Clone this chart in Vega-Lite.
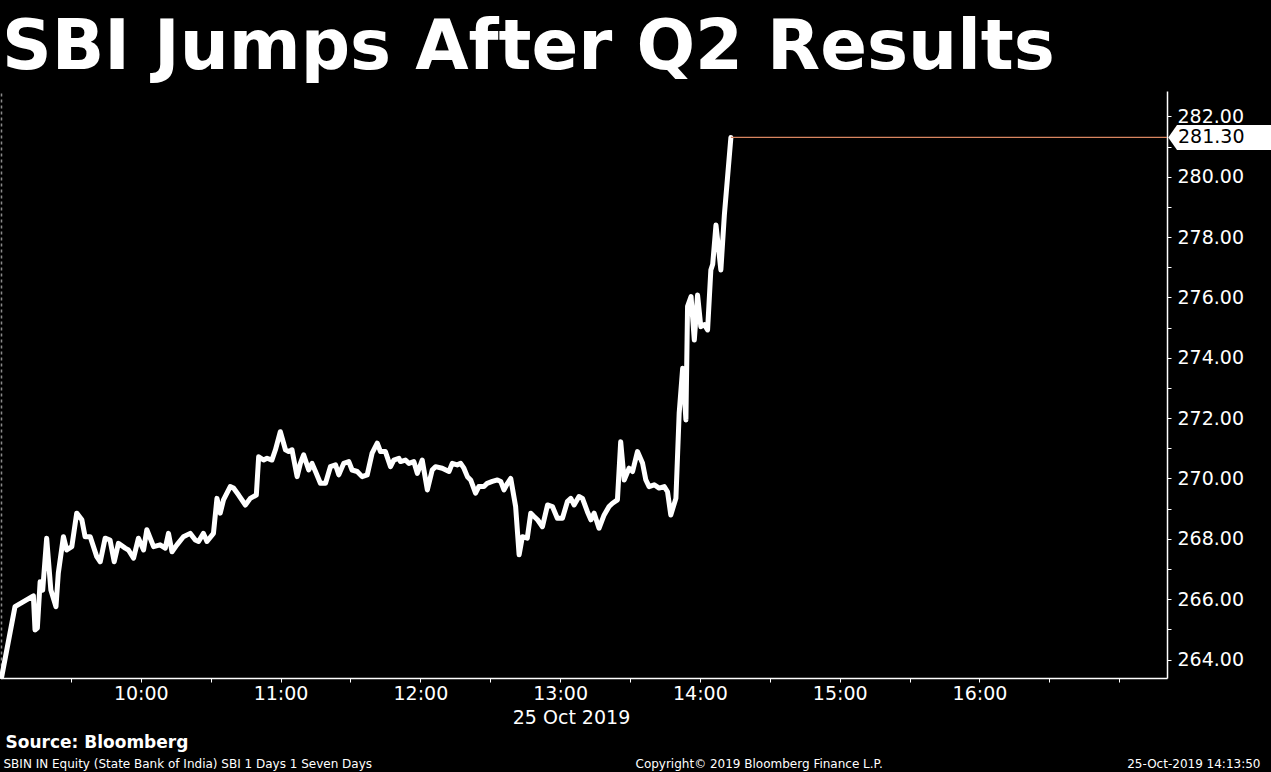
{
  "$schema": "https://vega.github.io/schema/vega-lite/v6.json",
  "width": 1166,
  "height": 587,
  "autosize": {"type": "none"},
  "padding": {"left": 1, "top": 91, "right": 104, "bottom": 94},
  "background": "#000000",
  "title": {"text": "SBI Jumps After Q2 Results", "anchor": "start", "frame": "group", "font": "DejaVu Sans", "fontSize": 69, "fontWeight": "bold", "color": "#ffffff", "baseline": "alphabetic", "offset": -47, "dx": 1},
  "config": {
    "view": {"stroke": null},
    "axis": {"grid": false, "domainColor": "#ffffff", "tickColor": "#ffffff", "labelColor": "#ffffff", "titleColor": "#ffffff", "labelFont": "DejaVu Sans", "titleFont": "DejaVu Sans"}
  },
  "datasets": {
    "prices": [
      {"time": "2019-10-25 09:00:18", "price": 263.43},
      {"time": "2019-10-25 09:06:00", "price": 265.75},
      {"time": "2019-10-25 09:13:54", "price": 266.11},
      {"time": "2019-10-25 09:14:36", "price": 264.98},
      {"time": "2019-10-25 09:15:36", "price": 265.04},
      {"time": "2019-10-25 09:16:48", "price": 266.58},
      {"time": "2019-10-25 09:17:54", "price": 266.30},
      {"time": "2019-10-25 09:19:36", "price": 268.02},
      {"time": "2019-10-25 09:21:24", "price": 266.30},
      {"time": "2019-10-25 09:23:36", "price": 265.75},
      {"time": "2019-10-25 09:24:36", "price": 266.86},
      {"time": "2019-10-25 09:26:48", "price": 268.07},
      {"time": "2019-10-25 09:28:12", "price": 267.63},
      {"time": "2019-10-25 09:30:24", "price": 267.74},
      {"time": "2019-10-25 09:32:30", "price": 268.85},
      {"time": "2019-10-25 09:34:42", "price": 268.63},
      {"time": "2019-10-25 09:36:06", "price": 268.07},
      {"time": "2019-10-25 09:38:18", "price": 268.07},
      {"time": "2019-10-25 09:41:06", "price": 267.41},
      {"time": "2019-10-25 09:42:36", "price": 267.24},
      {"time": "2019-10-25 09:44:42", "price": 268.02},
      {"time": "2019-10-25 09:46:48", "price": 267.96},
      {"time": "2019-10-25 09:48:36", "price": 267.24},
      {"time": "2019-10-25 09:50:24", "price": 267.85},
      {"time": "2019-10-25 09:53:18", "price": 267.69},
      {"time": "2019-10-25 09:54:42", "price": 267.63},
      {"time": "2019-10-25 09:56:54", "price": 267.36},
      {"time": "2019-10-25 09:59:00", "price": 268.02},
      {"time": "2019-10-25 10:01:12", "price": 267.63},
      {"time": "2019-10-25 10:02:36", "price": 268.30},
      {"time": "2019-10-25 10:05:30", "price": 267.74},
      {"time": "2019-10-25 10:08:18", "price": 267.80},
      {"time": "2019-10-25 10:10:30", "price": 267.69},
      {"time": "2019-10-25 10:11:54", "price": 268.18},
      {"time": "2019-10-25 10:13:24", "price": 267.57},
      {"time": "2019-10-25 10:15:30", "price": 267.80},
      {"time": "2019-10-25 10:18:18", "price": 268.07},
      {"time": "2019-10-25 10:21:12", "price": 268.18},
      {"time": "2019-10-25 10:23:24", "price": 267.96},
      {"time": "2019-10-25 10:24:48", "price": 267.91},
      {"time": "2019-10-25 10:26:54", "price": 268.18},
      {"time": "2019-10-25 10:28:24", "price": 267.91},
      {"time": "2019-10-25 10:31:12", "price": 268.18},
      {"time": "2019-10-25 10:32:42", "price": 269.34},
      {"time": "2019-10-25 10:34:06", "price": 268.85},
      {"time": "2019-10-25 10:35:30", "price": 269.29},
      {"time": "2019-10-25 10:38:24", "price": 269.73},
      {"time": "2019-10-25 10:39:48", "price": 269.68},
      {"time": "2019-10-25 10:42:00", "price": 269.45},
      {"time": "2019-10-25 10:44:54", "price": 269.12},
      {"time": "2019-10-25 10:47:00", "price": 269.34},
      {"time": "2019-10-25 10:49:36", "price": 269.45},
      {"time": "2019-10-25 10:50:36", "price": 270.72},
      {"time": "2019-10-25 10:52:42", "price": 270.61},
      {"time": "2019-10-25 10:54:12", "price": 270.67},
      {"time": "2019-10-25 10:56:18", "price": 270.61},
      {"time": "2019-10-25 10:57:48", "price": 270.95},
      {"time": "2019-10-25 10:59:54", "price": 271.55},
      {"time": "2019-10-25 11:02:06", "price": 270.95},
      {"time": "2019-10-25 11:03:30", "price": 270.89},
      {"time": "2019-10-25 11:04:54", "price": 270.95},
      {"time": "2019-10-25 11:07:06", "price": 270.06},
      {"time": "2019-10-25 11:08:30", "price": 270.50},
      {"time": "2019-10-25 11:09:54", "price": 270.78},
      {"time": "2019-10-25 11:12:06", "price": 270.28},
      {"time": "2019-10-25 11:13:30", "price": 270.50},
      {"time": "2019-10-25 11:15:00", "price": 270.23},
      {"time": "2019-10-25 11:17:06", "price": 269.84},
      {"time": "2019-10-25 11:19:18", "price": 269.84},
      {"time": "2019-10-25 11:21:24", "price": 270.39},
      {"time": "2019-10-25 11:23:36", "price": 270.45},
      {"time": "2019-10-25 11:25:00", "price": 270.12},
      {"time": "2019-10-25 11:27:06", "price": 270.50},
      {"time": "2019-10-25 11:29:18", "price": 270.56},
      {"time": "2019-10-25 11:30:42", "price": 270.28},
      {"time": "2019-10-25 11:32:54", "price": 270.23},
      {"time": "2019-10-25 11:35:00", "price": 270.06},
      {"time": "2019-10-25 11:37:12", "price": 270.12},
      {"time": "2019-10-25 11:39:18", "price": 270.84},
      {"time": "2019-10-25 11:41:30", "price": 271.17},
      {"time": "2019-10-25 11:42:54", "price": 270.89},
      {"time": "2019-10-25 11:45:00", "price": 270.89},
      {"time": "2019-10-25 11:47:12", "price": 270.39},
      {"time": "2019-10-25 11:48:36", "price": 270.61},
      {"time": "2019-10-25 11:50:48", "price": 270.67},
      {"time": "2019-10-25 11:51:30", "price": 270.56},
      {"time": "2019-10-25 11:53:36", "price": 270.61},
      {"time": "2019-10-25 11:55:06", "price": 270.50},
      {"time": "2019-10-25 11:57:12", "price": 270.56},
      {"time": "2019-10-25 11:58:42", "price": 270.17},
      {"time": "2019-10-25 12:00:48", "price": 270.61},
      {"time": "2019-10-25 12:03:00", "price": 269.62},
      {"time": "2019-10-25 12:05:06", "price": 270.28},
      {"time": "2019-10-25 12:06:30", "price": 270.39},
      {"time": "2019-10-25 12:09:24", "price": 270.34},
      {"time": "2019-10-25 12:12:18", "price": 270.23},
      {"time": "2019-10-25 12:13:42", "price": 270.50},
      {"time": "2019-10-25 12:15:48", "price": 270.45},
      {"time": "2019-10-25 12:17:18", "price": 270.50},
      {"time": "2019-10-25 12:18:42", "price": 270.34},
      {"time": "2019-10-25 12:20:12", "price": 270.06},
      {"time": "2019-10-25 12:21:36", "price": 269.95},
      {"time": "2019-10-25 12:23:42", "price": 269.51},
      {"time": "2019-10-25 12:25:06", "price": 269.73},
      {"time": "2019-10-25 12:27:18", "price": 269.73},
      {"time": "2019-10-25 12:28:42", "price": 269.84},
      {"time": "2019-10-25 12:30:54", "price": 269.90},
      {"time": "2019-10-25 12:33:06", "price": 269.95},
      {"time": "2019-10-25 12:34:30", "price": 269.90},
      {"time": "2019-10-25 12:35:54", "price": 269.62},
      {"time": "2019-10-25 12:37:24", "price": 269.84},
      {"time": "2019-10-25 12:38:48", "price": 270.00},
      {"time": "2019-10-25 12:40:54", "price": 269.07},
      {"time": "2019-10-25 12:42:24", "price": 267.47},
      {"time": "2019-10-25 12:43:48", "price": 268.07},
      {"time": "2019-10-25 12:45:54", "price": 268.02},
      {"time": "2019-10-25 12:47:24", "price": 268.85},
      {"time": "2019-10-25 12:48:48", "price": 268.74},
      {"time": "2019-10-25 12:50:18", "price": 268.63},
      {"time": "2019-10-25 12:52:24", "price": 268.40},
      {"time": "2019-10-25 12:54:36", "price": 269.12},
      {"time": "2019-10-25 12:56:42", "price": 269.07},
      {"time": "2019-10-25 12:58:48", "price": 268.68},
      {"time": "2019-10-25 13:01:00", "price": 268.68},
      {"time": "2019-10-25 13:03:06", "price": 269.23},
      {"time": "2019-10-25 13:04:36", "price": 269.34},
      {"time": "2019-10-25 13:06:00", "price": 269.12},
      {"time": "2019-10-25 13:08:06", "price": 269.40},
      {"time": "2019-10-25 13:09:36", "price": 269.34},
      {"time": "2019-10-25 13:11:42", "price": 268.90},
      {"time": "2019-10-25 13:13:12", "price": 268.63},
      {"time": "2019-10-25 13:14:36", "price": 268.85},
      {"time": "2019-10-25 13:16:42", "price": 268.35},
      {"time": "2019-10-25 13:18:54", "price": 268.79},
      {"time": "2019-10-25 13:21:00", "price": 269.07},
      {"time": "2019-10-25 13:22:30", "price": 269.18},
      {"time": "2019-10-25 13:24:36", "price": 269.29},
      {"time": "2019-10-25 13:26:00", "price": 271.22},
      {"time": "2019-10-25 13:27:30", "price": 269.95},
      {"time": "2019-10-25 13:29:36", "price": 270.34},
      {"time": "2019-10-25 13:31:06", "price": 270.23},
      {"time": "2019-10-25 13:33:12", "price": 270.89},
      {"time": "2019-10-25 13:35:24", "price": 270.50},
      {"time": "2019-10-25 13:36:48", "price": 269.95},
      {"time": "2019-10-25 13:38:12", "price": 269.73},
      {"time": "2019-10-25 13:40:24", "price": 269.79},
      {"time": "2019-10-25 13:42:30", "price": 269.68},
      {"time": "2019-10-25 13:44:42", "price": 269.73},
      {"time": "2019-10-25 13:46:06", "price": 269.56},
      {"time": "2019-10-25 13:47:30", "price": 268.79},
      {"time": "2019-10-25 13:49:42", "price": 269.34},
      {"time": "2019-10-25 13:51:06", "price": 272.16},
      {"time": "2019-10-25 13:52:36", "price": 273.65},
      {"time": "2019-10-25 13:54:00", "price": 271.94},
      {"time": "2019-10-25 13:54:42", "price": 275.70},
      {"time": "2019-10-25 13:56:12", "price": 276.03},
      {"time": "2019-10-25 13:57:36", "price": 274.59},
      {"time": "2019-10-25 13:59:00", "price": 276.08},
      {"time": "2019-10-25 14:00:24", "price": 275.03},
      {"time": "2019-10-25 14:01:54", "price": 275.10},
      {"time": "2019-10-25 14:03:18", "price": 274.92},
      {"time": "2019-10-25 14:04:42", "price": 276.91},
      {"time": "2019-10-25 14:05:30", "price": 277.10},
      {"time": "2019-10-25 14:06:54", "price": 278.40},
      {"time": "2019-10-25 14:09:00", "price": 276.91},
      {"time": "2019-10-25 14:10:30", "price": 278.73},
      {"time": "2019-10-25 14:13:18", "price": 281.30}
    ],
    "last": [
      {"time": "2019-10-25 14:13:18", "price": 281.30}
    ]
  },
  "layer": [
    {
      "data": {"name": "prices"},
      "mark": {"type": "line", "color": "#ffffff", "strokeWidth": 5, "strokeJoin": "round", "strokeCap": "round"},
      "encoding": {
        "x": {
          "field": "time", "type": "temporal",
          "scale": {"domain": [{"year": 2019, "month": 10, "date": 25, "hours": 9, "minutes": 0}, {"year": 2019, "month": 10, "date": 25, "hours": 17, "minutes": 20, "seconds": 30}]},
          "axis": {
            "orient": "bottom",
            "values": [
              {"year": 2019, "month": 10, "date": 25, "hours": 9, "minutes": 30},
              {"year": 2019, "month": 10, "date": 25, "hours": 10, "minutes": 0},
              {"year": 2019, "month": 10, "date": 25, "hours": 10, "minutes": 30},
              {"year": 2019, "month": 10, "date": 25, "hours": 11, "minutes": 0},
              {"year": 2019, "month": 10, "date": 25, "hours": 11, "minutes": 30},
              {"year": 2019, "month": 10, "date": 25, "hours": 12, "minutes": 0},
              {"year": 2019, "month": 10, "date": 25, "hours": 12, "minutes": 30},
              {"year": 2019, "month": 10, "date": 25, "hours": 13, "minutes": 0},
              {"year": 2019, "month": 10, "date": 25, "hours": 13, "minutes": 30},
              {"year": 2019, "month": 10, "date": 25, "hours": 14, "minutes": 0},
              {"year": 2019, "month": 10, "date": 25, "hours": 14, "minutes": 30},
              {"year": 2019, "month": 10, "date": 25, "hours": 15, "minutes": 0},
              {"year": 2019, "month": 10, "date": 25, "hours": 15, "minutes": 30},
              {"year": 2019, "month": 10, "date": 25, "hours": 16, "minutes": 0},
              {"year": 2019, "month": 10, "date": 25, "hours": 16, "minutes": 30},
              {"year": 2019, "month": 10, "date": 25, "hours": 17, "minutes": 0}
            ],
            "labelExpr": "minutes(datum.value) == 0 && hours(datum.value) >= 10 && hours(datum.value) <= 16 ? timeFormat(datum.value, '%H:%M') : ''",
            "labelFontSize": 19,
            "labelPadding": 2,
            "labelFlush": false,
            "labelOverlap": false,
            "tickSize": 4,
            "domainWidth": 1.5,
            "title": "25 Oct 2019",
            "titleFontSize": 19,
            "titleFontWeight": "normal",
            "titleAlign": "center",
            "titleBaseline": "middle",
            "titleX": 570,
            "titleY": 39
          }
        },
        "y": {
          "field": "price", "type": "quantitative",
          "scale": {"domain": [263.387, 282.84], "nice": false, "zero": false},
          "axis": {
            "orient": "right",
            "values": [264, 265, 266, 267, 268, 269, 270, 271, 272, 273, 274, 275, 276, 277, 278, 279, 280, 281, 282],
            "labelExpr": "datum.value % 2 == 0 ? format(datum.value, '.2f') : ''",
            "labelFontSize": 19,
            "labelPadding": 6,
            "labelBaseline": "middle",
            "labelFlush": false,
            "labelOverlap": false,
            "tickSize": 4,
            "domainWidth": 1.5,
            "title": null
          }
        }
      }
    },
    {
      "data": {"name": "last"},
      "mark": {"type": "rule", "stroke": "#d88560", "strokeWidth": 1.2},
      "encoding": {
        "x": {"field": "time", "type": "temporal", "axis": null, "scale": {"domain": [{"year": 2019, "month": 10, "date": 25, "hours": 9, "minutes": 0}, {"year": 2019, "month": 10, "date": 25, "hours": 17, "minutes": 20, "seconds": 30}]}},
        "x2": {"datum": {"year": 2019, "month": 10, "date": 25, "hours": 17, "minutes": 20, "seconds": 30}},
        "y": {"field": "price", "type": "quantitative", "axis": null, "scale": {"domain": [263.387, 282.84], "nice": false, "zero": false}}
      }
    },
    {
      "data": {"name": "last"},
      "mark": {"type": "point", "shape": "M0.1,0L0.8,-1L9,-1L9,1L0.8,1Z", "filled": true, "fill": "#ffffff", "opacity": 1, "size": 625, "strokeWidth": 0},
      "encoding": {
        "x": {"datum": {"year": 2019, "month": 10, "date": 25, "hours": 17, "minutes": 20, "seconds": 30}, "type": "temporal", "axis": null, "scale": {"domain": [{"year": 2019, "month": 10, "date": 25, "hours": 9, "minutes": 0}, {"year": 2019, "month": 10, "date": 25, "hours": 17, "minutes": 20, "seconds": 30}]}},
        "y": {"field": "price", "type": "quantitative", "axis": null, "scale": {"domain": [263.387, 282.84], "nice": false, "zero": false}}
      }
    },
    {
      "data": {"name": "last"},
      "mark": {"type": "text", "align": "left", "baseline": "middle", "dx": 11, "font": "DejaVu Sans", "fontSize": 19, "color": "#000000"},
      "encoding": {
        "x": {"datum": {"year": 2019, "month": 10, "date": 25, "hours": 17, "minutes": 20, "seconds": 30}, "type": "temporal", "axis": null, "scale": {"domain": [{"year": 2019, "month": 10, "date": 25, "hours": 9, "minutes": 0}, {"year": 2019, "month": 10, "date": 25, "hours": 17, "minutes": 20, "seconds": 30}]}},
        "y": {"field": "price", "type": "quantitative", "axis": null, "scale": {"domain": [263.387, 282.84], "nice": false, "zero": false}},
        "text": {"field": "price", "type": "quantitative", "format": ".2f"}
      }
    },
    {
      "data": {"name": "last"},
      "mark": {"type": "point", "opacity": 0},
      "encoding": {
        "x": {"field": "price", "type": "quantitative", "axis": {"orient": "bottom", "domain": false, "ticks": false, "labels": false, "title": "Source: Bloomberg", "titleFontSize": 17, "titleFontWeight": "bold", "titleAlign": "left", "titleBaseline": "middle", "titleX": 4, "titleY": 64}},
        "y": {"field": "price", "type": "quantitative", "axis": {"orient": "left", "domain": true, "domainColor": "#8a8a8a", "domainDash": [3, 3], "domainWidth": 1.5, "ticks": false, "labels": false, "title": null}}
      }
    },
    {
      "data": {"name": "last"},
      "mark": {"type": "point", "opacity": 0},
      "encoding": {
        "x": {"field": "price", "type": "quantitative", "axis": {"orient": "bottom", "domain": false, "ticks": false, "labels": false, "title": "SBIN IN Equity (State Bank of India) SBI 1 Days 1 Seven Days", "titleFontSize": 12, "titleFontWeight": "normal", "titleAlign": "left", "titleBaseline": "middle", "titleX": 2, "titleY": 85}}
      }
    },
    {
      "data": {"name": "last"},
      "mark": {"type": "point", "opacity": 0},
      "encoding": {
        "x": {"field": "price", "type": "quantitative", "axis": {"orient": "bottom", "domain": false, "ticks": false, "labels": false, "title": "Copyright© 2019 Bloomberg Finance L.P.", "titleFontSize": 12, "titleFontWeight": "normal", "titleAlign": "left", "titleBaseline": "middle", "titleX": 634, "titleY": 85}}
      }
    },
    {
      "data": {"name": "last"},
      "mark": {"type": "point", "opacity": 0},
      "encoding": {
        "x": {"field": "price", "type": "quantitative", "axis": {"orient": "bottom", "domain": false, "ticks": false, "labels": false, "title": "25-Oct-2019 14:13:50", "titleFontSize": 12, "titleFontWeight": "normal", "titleAlign": "right", "titleBaseline": "middle", "titleX": 1259, "titleY": 85}}
      }
    }
  ],
  "resolve": {"scale": {"x": "independent", "y": "independent"}, "axis": {"x": "independent", "y": "independent"}}
}
